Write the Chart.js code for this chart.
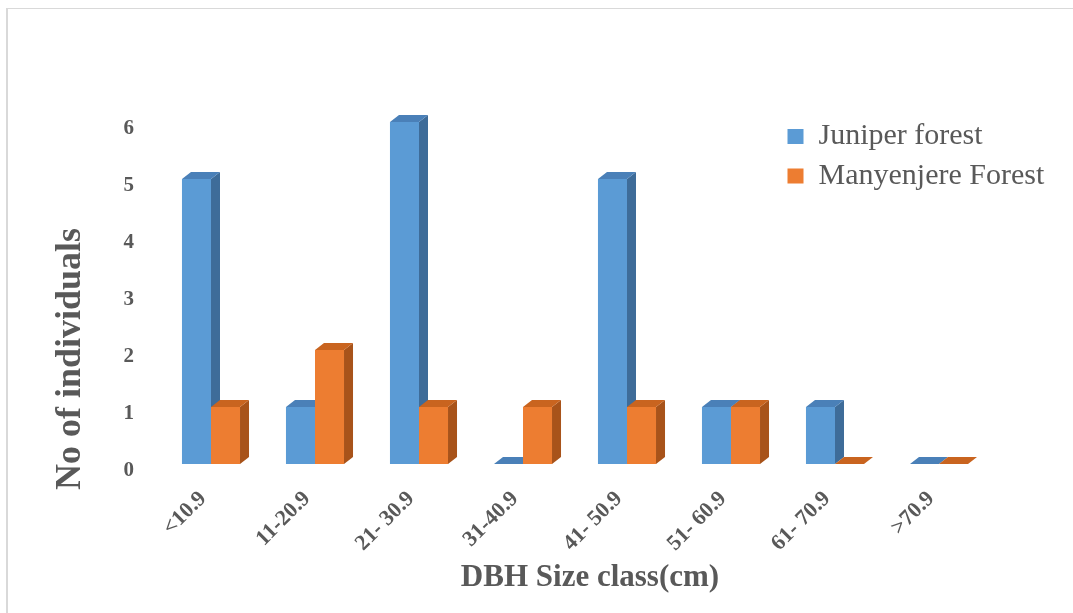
<!DOCTYPE html>
<html>
<head>
<meta charset="utf-8">
<script src="https://cdn.jsdelivr.net/npm/chart.js@4.4.1/dist/chart.umd.min.js"></script>
<style>
  html, body { margin: 0; padding: 0; background: #fff; overflow: hidden; }
  #wrap { position: relative; width: 1073px; height: 613px; overflow: hidden; }
  #wrap canvas { position: absolute; left: 0; top: 0; }
  #frame { position: absolute; left: 6px; top: 8px; width: 1100px; height: 640px;
           border-left: 2px solid #d9d9d9; border-top: 1px solid #d9d9d9; pointer-events: none; }
</style>
</head>
<body>
<div id="wrap">
  <canvas id="chart" width="1073" height="613"></canvas>
  <div id="frame"></div>
</div>
<script>
// DBH size classes and tree counts per forest
const sizeClasses = ['<10.9', '11-20.9', '21- 30.9', '31-40.9', '41- 50.9', '51- 60.9', '61- 70.9', '>70.9'];
const juniperForest = [5, 1, 6, 0, 5, 1, 1, 0];
const manyenjereForest = [1, 2, 1, 1, 1, 1, 0, 0];
const countTicks = [0, 1, 2, 3, 4, 5, 6];

const seriesNames = ['Juniper forest', 'Manyenjere Forest'];
const faceColors = [
  { front: '#5B9BD5', top: '#4A80B8', side: '#3E6C99' },
  { front: '#ED7D31', top: '#C9641F', side: '#A8531A' }
];
const textGrey = '#595959';
const serif = "'Liberation Serif', 'Times New Roman', serif";

// depth of the extruded bars
const depthX = 9;
const depthY = 7;

// paints each bar as a block: front face, lit top and shaded right side
const extrudedBars = {
  id: 'extrudedBars',
  afterDatasetsDraw(chart) {
    const ctx = chart.ctx;
    chart.data.datasets.forEach((ds, di) => {
      const meta = chart.getDatasetMeta(di);
      if (meta.hidden) return;
      const c = faceColors[di];
      meta.data.forEach(el => {
        const { x, y, base, width } = el.getProps(['x', 'y', 'base', 'width'], true);
        const l = x - width / 2;
        const r = x + width / 2;
        ctx.save();
        ctx.fillStyle = c.front;
        ctx.fillRect(l, y, width, base - y);
        ctx.fillStyle = c.side;
        ctx.beginPath();
        ctx.moveTo(r, y);
        ctx.lineTo(r + depthX, y - depthY);
        ctx.lineTo(r + depthX, base - depthY);
        ctx.lineTo(r, base);
        ctx.closePath();
        ctx.fill();
        ctx.fillStyle = c.top;
        ctx.beginPath();
        ctx.moveTo(l, y);
        ctx.lineTo(l + depthX, y - depthY);
        ctx.lineTo(r + depthX, y - depthY);
        ctx.lineTo(r, y);
        ctx.closePath();
        ctx.fill();
        ctx.restore();
      });
    });
  }
};

// legend sits inside the plot, upper right
const legendSpot = { left: 778, top: 112 };
const placeLegend = {
  id: 'placeLegend',
  afterLayout(chart) {
    const lg = chart.legend;
    if (!lg) return;
    const w = lg.width, h = lg.height;
    lg.left = legendSpot.left;
    lg.top = legendSpot.top;
    lg.right = legendSpot.left + w;
    lg.bottom = legendSpot.top + h;
  }
};

// axis titles are offset from the plot centre
const titleNudge = { x: [15, 0], y: [0, 66] };
const nudgeTitles = {
  id: 'nudgeTitles',
  beforeDraw(chart) {
    Object.entries(titleNudge).forEach(([id, [dx, dy]]) => {
      const s = chart.scales[id];
      if (!s || s.$nudged) return;
      const drawTitle = s.drawTitle.bind(s);
      s.drawTitle = function () {
        this.ctx.save();
        this.ctx.translate(dx, dy);
        drawTitle();
        this.ctx.restore();
      };
      s.$nudged = true;
    });
  }
};

new Chart(document.getElementById('chart'), {
  type: 'bar',
  data: {
    labels: sizeClasses,
    datasets: [
      { label: seriesNames[0], data: juniperForest, backgroundColor: faceColors[0].front, borderWidth: 0 },
      { label: seriesNames[1], data: manyenjereForest, backgroundColor: faceColors[1].front, borderWidth: 0 }
    ]
  },
  options: {
    responsive: false,
    animation: false,
    devicePixelRatio: 1,
    categoryPercentage: 0.558,
    barPercentage: 1,
    layout: { padding: { top: 122, right: 82, bottom: 0, left: 0 } },
    plugins: {
      tooltip: { enabled: false },
      legend: {
        position: 'chartArea',
        align: 'start',
        labels: {
          color: textGrey,
          font: { family: serif, size: 30 },
          boxWidth: 16,
          boxHeight: 15,
          padding: 9.5
        }
      }
    },
    scales: {
      x: {
        grid: { display: false, drawTicks: false },
        border: { display: false },
        ticks: {
          color: textGrey,
          font: { family: serif, size: 22, weight: 'bold' },
          minRotation: 45,
          maxRotation: 45,
          autoSkip: false,
          padding: 22,
          labelOffset: -8
        },
        title: {
          display: true,
          text: 'DBH Size class(cm)',
          color: textGrey,
          font: { family: serif, size: 31, weight: 'bold' },
          padding: { top: 0, bottom: 16.4 }
        },
        afterFit(scale) { scale.height = 149; }
      },
      y: {
        min: 0,
        max: 6,
        grid: { display: false, drawTicks: false },
        border: { display: false },
        afterBuildTicks(scale) { scale.ticks = countTicks.map(v => ({ value: v })); },
        ticks: {
          color: textGrey,
          font: { family: serif, size: 21, weight: 'bold' },
          padding: 25,
          labelOffset: 7
        },
        title: {
          display: true,
          text: 'No of individuals',
          color: textGrey,
          font: { family: serif, size: 36, weight: 'bold' },
          padding: { top: 49.4, bottom: 0 }
        },
        afterFit(scale) { scale.width = 159; }
      }
    }
  },
  plugins: [extrudedBars, placeLegend, nudgeTitles]
});
</script>
</body>
</html>
